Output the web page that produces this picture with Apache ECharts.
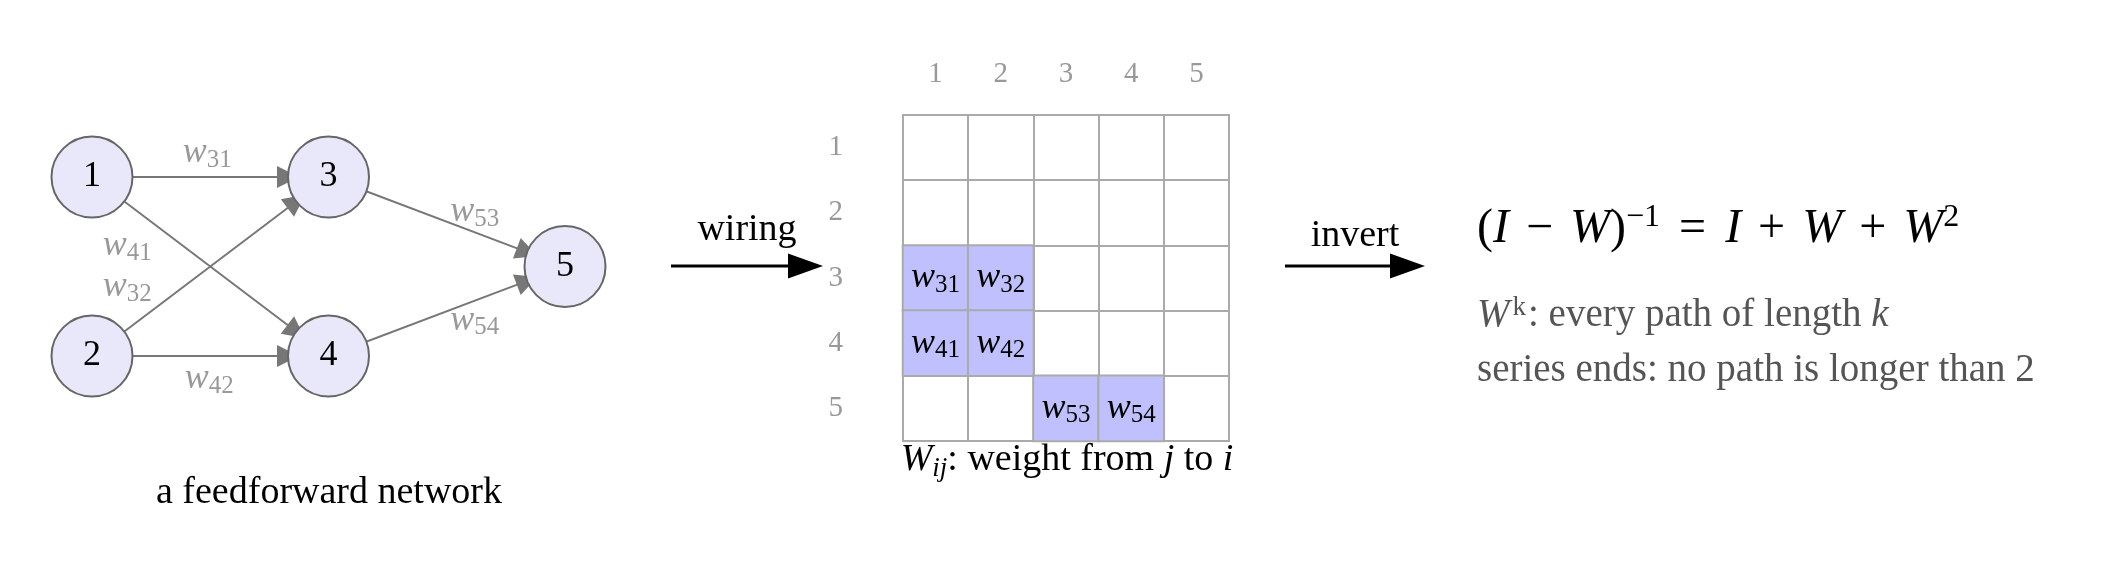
<!DOCTYPE html>
<html>
<head>
<meta charset="utf-8">
<script src="https://cdn.jsdelivr.net/npm/echarts@6/dist/echarts.min.js"></script>
<style>
html, body { margin: 0; background: #fff; }
#chart { width: 2102px; height: 566px; }
</style>
</head>
<body>
<div id="chart"></div>
<script>
// network: node names, layer (column) and row of each node
var nodeNames = ['1', '2', '3', '4', '5'];
var nodeLayer = [0, 0, 1, 1, 2];
var nodeRow = [1, 0, 1, 0, 0.5];
// links j -> i, the same pairs fill W[i][j]
var linkFrom = [1, 1, 2, 2, 3, 4];
var linkTo = [3, 4, 3, 4, 5, 5];
var matrixTicks = ['1', '2', '3', '4', '5'];

var FONT = 'Liberation Serif';
// pixel nudges for the edge labels (style only)
var edgeLabelShift = [[-3, -24], [-83, -21], [-83, 20], [-1, 23], [28, -10], [28, 9]];

function wLabel(i) {
  return '{w|w}{s|' + linkTo[i] + linkFrom[i] + '}';
}
function wRich(color) {
  return {
    w: { fontFamily: FONT, fontStyle: 'italic', fontSize: 36, color: color, lineHeight: 40 },
    s: { fontFamily: FONT, fontSize: 25, color: color, lineHeight: 22, verticalAlign: 'bottom' }
  };
}

var nodes = nodeNames.map(function (n, i) {
  return { name: n, value: [nodeLayer[i], nodeRow[i]] };
});
var links = linkFrom.map(function (f, i) {
  return { source: f - 1, target: linkTo[i] - 1 };
});
var edgeMid = linkFrom.map(function (f, i) {
  var a = f - 1, b = linkTo[i] - 1;
  return {
    value: [(nodeLayer[a] + nodeLayer[b]) / 2, (nodeRow[a] + nodeRow[b]) / 2],
    label: { offset: edgeLabelShift[i] }
  };
});
var cells = linkFrom.map(function (f, i) {
  return [f - 1, linkTo[i] - 1, 1];
});

function txt(x, y, text, size, color, align, rich) {
  return {
    type: 'text', x: x, y: y, silent: true,
    style: {
      text: text, fill: color, font: size + 'px "' + FONT + '"',
      fontFamily: FONT, fontSize: size,
      align: align, textAlign: align, verticalAlign: 'middle', textVerticalAlign: 'middle',
      rich: rich
    }
  };
}
function tok(size, color, extra) {
  var t = { fontFamily: FONT, fontSize: size, fill: color, color: color };
  for (var k in extra) t[k] = extra[k];
  return t;
}
function arrow(x1, x2, y) {
  return [
    { type: 'line', silent: true, shape: { x1: x1, y1: y, x2: x2 - 30, y2: y },
      style: { stroke: '#000', lineWidth: 3 } },
    { type: 'polygon', silent: true,
      shape: { points: [[x2, y], [x2 - 35, y - 12.5], [x2 - 35, y + 12.5]] },
      style: { fill: '#000' } }
  ];
}

var formulaRich = {
  m: tok(48, '#000', { lineHeight: 54 }),
  i: tok(48, '#000', { fontStyle: 'italic', lineHeight: 54 }),
  o: tok(48, '#000', { lineHeight: 54, padding: [0, 17, 0, 17] }),
  q: tok(48, '#000', { lineHeight: 54, padding: [0, 19, 0, 19] }),
  p: tok(32, '#000', { lineHeight: 25, verticalAlign: 'top' })
};
var greyRich = {
  m: tok(39, '#555', { lineHeight: 44 }),
  i: tok(39, '#555', { fontStyle: 'italic', lineHeight: 44 }),
  p: tok(27, '#555', { lineHeight: 22, verticalAlign: 'top', padding: [0, 2, 0, 3] })
};
var capRich = {
  m: tok(38, '#000', { lineHeight: 44 }),
  i: tok(38, '#000', { fontStyle: 'italic', lineHeight: 44 }),
  s: tok(27, '#000', { fontStyle: 'italic', lineHeight: 24, verticalAlign: 'bottom' })
};

var chart = echarts.init(document.getElementById('chart'));
chart.setOption({
  animation: false,
  grid: [
    { left: 92, top: 177, width: 473, height: 179, show: false },
    { left: 903, top: 115, width: 326, height: 326, show: true, borderColor: '#aaa', borderWidth: 2 }
  ],
  xAxis: [
    { gridIndex: 0, type: 'value', min: 0, max: 2, show: false },
    {
      gridIndex: 1, type: 'category', data: matrixTicks, position: 'top',
      axisLine: { show: false }, axisTick: { show: false },
      axisLabel: { color: '#999', fontFamily: FONT, fontSize: 29, margin: 26 },
      splitLine: { show: true, lineStyle: { color: '#aaa', width: 2 } }
    }
  ],
  yAxis: [
    { gridIndex: 0, type: 'value', min: 0, max: 1, show: false },
    {
      gridIndex: 1, type: 'category', data: matrixTicks, inverse: true,
      axisLine: { show: false }, axisTick: { show: false },
      axisLabel: { color: '#999', fontFamily: FONT, fontSize: 29, margin: 60 },
      splitLine: { show: true, lineStyle: { color: '#aaa', width: 2 } }
    }
  ],
  series: [
    {
      type: 'graph', coordinateSystem: 'cartesian2d', xAxisIndex: 0, yAxisIndex: 0,
      layout: 'none', silent: true,
      data: nodes, links: links,
      symbol: 'circle', symbolSize: 81,
      itemStyle: { color: '#e8e8fa', borderColor: '#666', borderWidth: 2 },
      label: { show: true, position: 'inside', formatter: '{b}', color: '#000', fontFamily: FONT, fontSize: 36 },
      edgeSymbol: ['none', 'triangle'], edgeSymbolSize: 22,
      lineStyle: { color: '#777', width: 2, opacity: 1, curveness: 0 },
      emphasis: { disabled: true }
    },
    {
      type: 'scatter', xAxisIndex: 0, yAxisIndex: 0, silent: true,
      data: edgeMid, symbolSize: 0,
      label: {
        show: true, position: 'inside',
        formatter: function (p) { return wLabel(p.dataIndex); },
        rich: wRich('#808080')
      }
    },
    {
      type: 'heatmap', xAxisIndex: 1, yAxisIndex: 1, silent: true,
      data: cells,
      itemStyle: { color: '#c0c0ff', borderColor: '#aaa', borderWidth: 2 },
      label: {
        show: true,
        formatter: function (p) { return wLabel(p.dataIndex); },
        rich: wRich('#000')
      },
      emphasis: { disabled: true }
    }
  ],
  graphic: [].concat(
    arrow(671, 823, 266),
    arrow(1285, 1425, 266),
    [
      txt(747, 230, 'wiring', 38, '#000', 'center'),
      txt(1355, 236, 'invert', 38, '#000', 'center'),
      txt(329, 493, 'a feedforward network', 38, '#000', 'center'),
      txt(1067, 460, '{i|W}{s|ij}{m|: weight from }{i|j}{m| to }{i|i}', 38, '#000', 'center', capRich),
      txt(1477, 229, '{m|(}{i|I}{o|\u2212}{i|W}{m|)}{p|\u22121}{q|=}{i|I}{o|+}{i|W}{o|+}{i|W}{p|2}', 48, '#000', 'left', formulaRich),
      txt(1477, 316, '{i|W}{p|k}{m|: every path of length }{i|k}', 39, '#555', 'left', greyRich),
      txt(1477, 371, 'series ends: no path is longer than 2', 39, '#555', 'left')
    ]
  )
});
</script>
</body>
</html>
